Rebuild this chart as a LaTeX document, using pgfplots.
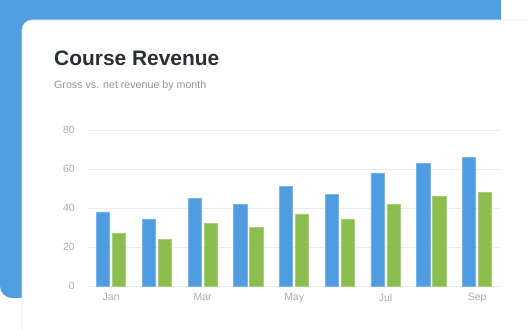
\documentclass[border=0pt]{standalone}
\usepackage{pgfplots}
\pgfplotsset{compat=1.18}
\usepackage{pgfplotstable}
\usepackage{fontspec}
\setmainfont{Liberation Sans}

\definecolor{cardblue}{HTML}{4F9EE1}
\definecolor{grossblue}{HTML}{4F9DE0}
\definecolor{netgreen}{HTML}{8BBE4E}
\definecolor{titlecol}{HTML}{2A2E35}
\definecolor{subcol}{HTML}{8E96A3}
\definecolor{tickcol}{HTML}{A6ADBA}
\definecolor{gridcol}{HTML}{E9ECF0}
\definecolor{cardedge}{HTML}{DDE3EA}

% monthly revenue (thousands)
\pgfplotstableread{
idx gross net
0 38 27
1 34 24
2 45 32
3 42 30
4 51 37
5 47 34
6 58 42
7 63 46
8 66 48
}\revenue

\begin{document}
\begin{tikzpicture}
  \useasboundingbox (0bp,0bp) rectangle (528bp,330bp);
  \begin{scope}
    \clip (0bp,0bp) rectangle (528bp,330bp);
    % blue backdrop card
    \fill[cardblue, rounded corners=12bp] (0bp,32bp) rectangle (501bp,345bp);
    % white front card
    \fill[white, draw=cardedge, line width=0.8bp, rounded corners=10bp] (22bp,-20bp) rectangle (545bp,310bp);
  \end{scope}
  % title and subtitle
  \node[anchor=base west, inner sep=0, text=titlecol, font=\fontsize{21}{24}\selectfont\bfseries] at (54bp,264.5bp) {Course Revenue};
  \node[anchor=base west, inner sep=0, text=subcol, font=\fontsize{10.7}{13}\selectfont] at (54bp,241bp) {Gross vs. net revenue by month};

  \begin{axis}[
    at={(88.3bp,44bp)}, anchor=south west,
    scale only axis, width=411.7bp, height=156bp,
    xmin=-0.5, xmax=8.5, ymin=0, ymax=80,
    ytick={0,20,40,60,80},
    xtick={0,2,4,6,8},
    xticklabels={Jan,Mar,May,Jul,Sep},
    axis line style={draw=none},
    major tick length=0,
    ymajorgrids, grid style={gridcol, line width=0.8bp},
    tick label style={text=tickcol, font=\fontsize{10.5}{12}\selectfont},
    yticklabel style={xshift=-10bp},
    xticklabel style={yshift=-4bp},
    /pgf/number format/assume math mode=true,
    ybar=2.7bp, bar width=13.3bp,
    clip=false,
  ]
    \addplot[fill=grossblue, draw=grossblue!75!white, line width=0.7bp] table[x=idx, y=gross] {\revenue};
    \addplot[fill=netgreen, draw=netgreen!75!white, line width=0.7bp] table[x=idx, y=net] {\revenue};
  \end{axis}
\end{tikzpicture}
\end{document}
